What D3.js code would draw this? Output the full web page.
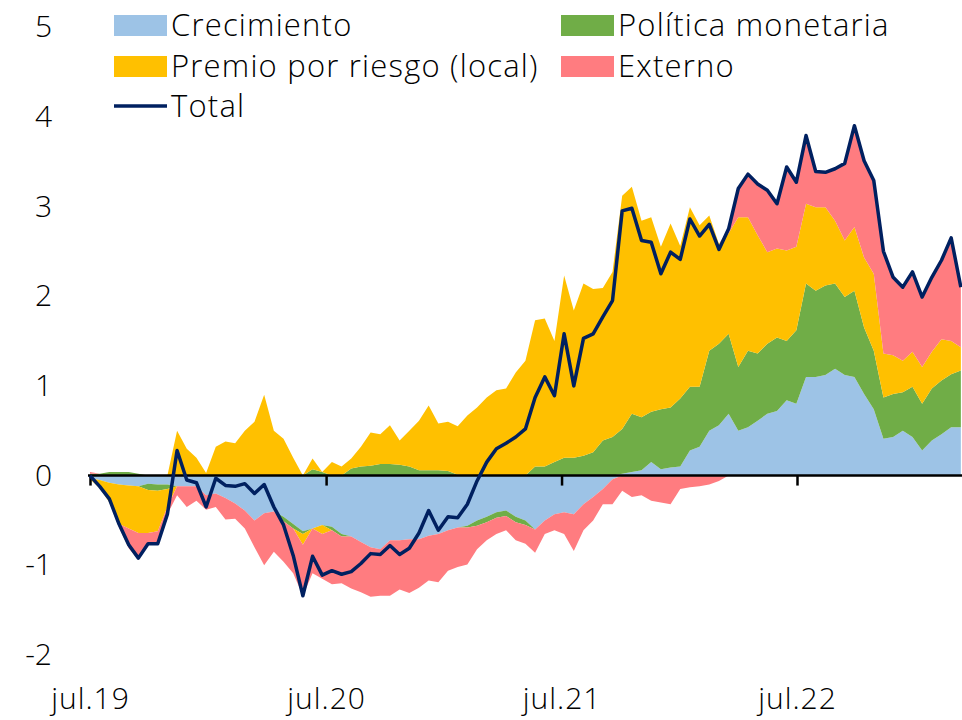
<!DOCTYPE html>
<html lang="es">
<head>
<meta charset="UTF-8">
<title>Descomposición</title>
<script src="https://d3js.org/d3.v7.min.js"></script>
<style>
  body { margin: 0; background: #fff; }
  svg { display: block; font-family: "Open Sans", Lato, sans-serif; }
  .axis text { font-size: 30px; fill: #000; font-family: "Open Sans", Lato, sans-serif; font-weight: 300; }
  .xlab text { letter-spacing: 1px; }
  .legend text { font-size: 31px; fill: #000; font-weight: 300; letter-spacing: 1.2px; }
</style>
</head>
<body>
<svg id="chart" width="962" height="720"></svg>
<script>
// one observation every 15 days starting 1 jul 2019
const startDate = new Date(2019, 6, 1);
const stepDays = 15;

const crecimiento = [
  -0.03, -0.05, -0.08, -0.10, -0.11, -0.12, -0.09, -0.10, -0.10, -0.12,
  -0.12, -0.12, -0.22, -0.20, -0.25, -0.31, -0.39, -0.50, -0.42, -0.40,
  -0.46, -0.54, -0.62, -0.59, -0.55, -0.57, -0.65, -0.68, -0.74, -0.80,
  -0.82, -0.72, -0.72, -0.71, -0.71, -0.67, -0.65, -0.61, -0.58, -0.56,
  -0.50, -0.46, -0.41, -0.39, -0.46, -0.50, -0.60, -0.50, -0.43, -0.41,
  -0.43, -0.32, -0.24, -0.15, -0.04, 0.02, 0.04, 0.06, 0.15, 0.07,
  0.09, 0.10, 0.28, 0.32, 0.50, 0.56, 0.69, 0.50, 0.54, 0.61,
  0.69, 0.72, 0.84, 0.80, 1.10, 1.10, 1.12, 1.19, 1.12, 1.10,
  0.91, 0.74, 0.41, 0.43, 0.50, 0.43, 0.28, 0.39, 0.46, 0.54,
  0.54
];
const politicaMonetaria = [
  0.02, 0.02, 0.04, 0.04, 0.04, 0.02, -0.07, -0.07, -0.05, 0.00,
  0.00, 0.00, 0.00, 0.00, 0.00, 0.00, 0.00, 0.00, 0.00, 0.00,
  -0.05, -0.05, -0.03, 0.07, 0.04, -0.04, -0.03, 0.08, 0.10, 0.11,
  0.13, 0.13, 0.12, 0.10, 0.06, 0.06, 0.06, 0.05, 0.01, -0.02,
  -0.06, -0.06, -0.06, -0.06, -0.06, -0.05, 0.10, 0.10, 0.15, 0.20,
  0.20, 0.22, 0.26, 0.39, 0.43, 0.50, 0.65, 0.59, 0.56, 0.67,
  0.67, 0.76, 0.71, 0.67, 0.89, 0.91, 0.89, 0.71, 0.85, 0.75,
  0.78, 0.82, 0.66, 0.82, 1.04, 0.96, 1.00, 0.95, 0.87, 0.96,
  0.74, 0.65, 0.46, 0.48, 0.43, 0.56, 0.52, 0.58, 0.60, 0.59,
  0.63
];
const premioRiesgo = [
  -0.01, -0.09, -0.22, -0.44, -0.48, -0.52, -0.48, -0.45, -0.20, 0.50,
  0.30, 0.20, 0.03, 0.32, 0.38, 0.36, 0.50, 0.60, 0.90, 0.50,
  0.41, 0.20, -0.12, 0.12, -0.10, 0.15, 0.10, 0.11, 0.22, 0.37,
  0.33, 0.43, 0.27, 0.40, 0.55, 0.72, 0.52, 0.55, 0.54, 0.67,
  0.76, 0.87, 0.95, 0.97, 1.15, 1.28, 1.63, 1.65, 1.35, 2.03,
  1.64, 1.92, 1.82, 1.70, 1.84, 2.60, 2.53, 2.19, 2.17, 1.81,
  2.05, 1.70, 2.00, 1.80, 1.51, 1.11, 1.12, 1.67, 1.49, 1.32,
  1.02, 0.99, 1.01, 0.93, 0.89, 0.93, 0.87, 0.70, 0.63, 0.71,
  0.78, 0.86, 0.49, 0.43, 0.35, 0.39, 0.41, 0.41, 0.46, 0.37,
  0.26
];
const externo = [
  0.02, 0.00, 0.00, -0.04, -0.22, -0.30, -0.12, -0.14, -0.08, -0.10,
  -0.23, -0.16, -0.16, -0.15, -0.24, -0.17, -0.20, -0.30, -0.58, -0.45,
  -0.45, -0.50, -0.57, -0.50, -0.50, -0.60, -0.52, -0.58, -0.56, -0.55,
  -0.52, -0.62, -0.55, -0.60, -0.54, -0.50, -0.54, -0.45, -0.44, -0.41,
  -0.26, -0.20, -0.18, -0.16, -0.20, -0.21, -0.26, -0.15, -0.18, -0.24,
  -0.41, -0.29, -0.26, -0.17, -0.28, -0.17, -0.24, -0.22, -0.28, -0.30,
  -0.32, -0.15, -0.13, -0.12, -0.10, -0.06, 0.05, 0.32, 0.48, 0.57,
  0.69, 0.50, 0.93, 0.72, 0.76, 0.40, 0.39, 0.58, 0.86, 1.13,
  1.08, 1.04, 1.14, 0.87, 0.82, 0.89, 0.78, 0.83, 0.88, 1.15,
  0.67
];

const seriesKeys = ["crec", "pol", "prem", "ext"];
const seriesNames = ["Crecimiento", "Política monetaria", "Premio por riesgo (local)", "Externo"];
const seriesColors = ["#9DC3E6", "#70AD47", "#FFC000", "#FF7C80"];
const totalName = "Total";
const totalColor = "#002060";

const yTicks = [-2, -1, 0, 1, 2, 3, 4, 5];
const xTickDates = [new Date(2019, 6, 1), new Date(2020, 6, 1), new Date(2021, 6, 1), new Date(2022, 6, 1)];
const xTickLabels = ["jul.19", "jul.20", "jul.21", "jul.22"];

// table for the stacks
const data = crecimiento.map((v, i) => ({
  date: d3.timeDay.offset(startDate, i * stepDays),
  crec: v,
  pol: politicaMonetaria[i],
  prem: premioRiesgo[i],
  ext: externo[i]
}));
data.forEach(d => { d.total = d.crec + d.pol + d.prem + d.ext; });

const svg = d3.select("#chart");
const W = 962, H = 720;

const x = d3.scaleTime()
  .domain([xTickDates[0], xTickDates[3]])
  .range([90, 797]);
const y = d3.scaleLinear().domain([-2, 5]).range([655, 27]);

svg.append("rect").attr("width", W).attr("height", H).attr("fill", "#fff");

// positive parts stack upward, negative parts downward, same key order
const posStack = d3.stack().keys(seriesKeys).value((d, k) => Math.max(d[k], 0));
const negStack = d3.stack().keys(seriesKeys).value((d, k) => Math.min(d[k], 0));
const layers = posStack(data).concat(negStack(data));

const area = d3.area()
  .x(d => x(d.data.date))
  .y0(d => y(d[0]))
  .y1(d => y(d[1]));

svg.append("g")
  .selectAll("path")
  .data(layers)
  .join("path")
  .attr("fill", d => seriesColors[d.index])
  .attr("d", area);

// x axis at zero
svg.append("line")
  .attr("x1", 88).attr("x2", W)
  .attr("y1", y(0)).attr("y2", y(0))
  .attr("stroke", "#000").attr("stroke-width", 2.5);

const xAxis = svg.append("g")
  .attr("transform", `translate(0,${y(0)})`)
  .call(d3.axisBottom(x).tickValues(xTickDates).tickSize(10).tickFormat(""));
xAxis.select(".domain").remove();
xAxis.selectAll(".tick line").attr("stroke", "#000").attr("stroke-width", 2.5);

// date labels at the bottom
const xLab = svg.append("g")
  .attr("class", "axis xlab")
  .attr("transform", "translate(0,688)")
  .call(d3.axisBottom(x).tickValues(xTickDates).tickSize(0).tickPadding(0)
    .tickFormat((d, i) => xTickLabels[i]));
xLab.select(".domain").remove();

const yAxis = svg.append("g")
  .attr("class", "axis")
  .attr("transform", "translate(55,0)")
  .call(d3.axisLeft(y).tickValues(yTicks).tickSize(0).tickPadding(3).tickFormat(d => String(d)));
yAxis.select(".domain").remove();

// total line
const line = d3.line()
  .x(d => x(d.date))
  .y(d => y(d.total));
svg.append("path")
  .datum(data)
  .attr("fill", "none")
  .attr("stroke", totalColor)
  .attr("stroke-width", 3.5)
  .attr("stroke-linejoin", "round")
  .attr("d", line);

// legend
const legend = svg.append("g").attr("class", "legend");
const legPos = [[114, 15], [561, 15], [114, 56], [561, 56]];
seriesNames.forEach((name, i) => {
  const [lx, ly] = legPos[i];
  legend.append("rect")
    .attr("x", lx).attr("y", ly).attr("width", 53).attr("height", 21)
    .attr("fill", seriesColors[i]);
  legend.append("text")
    .attr("x", lx + 57).attr("y", ly + 21)
    .text(name);
});
legend.append("line")
  .attr("x1", 114).attr("x2", 167).attr("y1", 106).attr("y2", 106)
  .attr("stroke", totalColor).attr("stroke-width", 3.5);
legend.append("text")
  .attr("x", 171).attr("y", 117)
  .text(totalName);
</script>
</body>
</html>
